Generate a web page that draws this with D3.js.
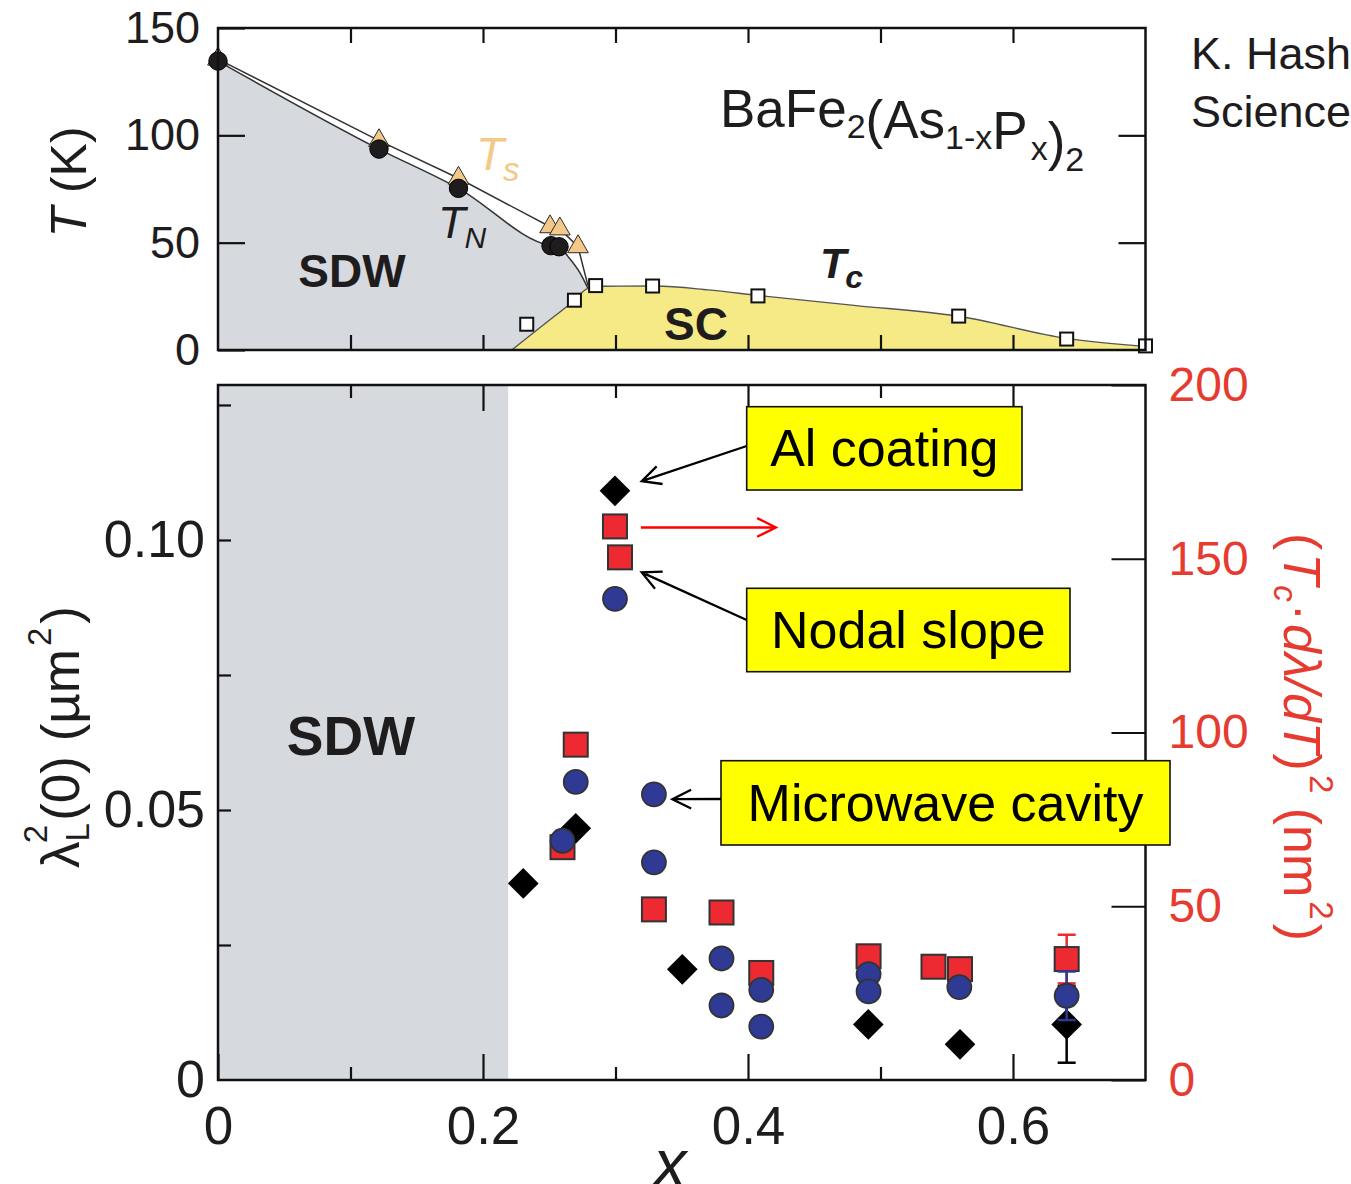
<!DOCTYPE html>
<html>
<head>
<meta charset="utf-8">
<script src="https://cdn.jsdelivr.net/npm/d3@7"></script>
<style>
  body { margin: 0; background: #fff; }
  svg { display: block; font-family: "Liberation Sans", Arial, Helvetica, sans-serif; }
</style>
</head>
<body>
<svg id="chart" width="1351" height="1184"></svg>
<script>
// ---------- Phase diagram: transition temperatures vs P content x ----------
const tnX = [0, 0.1215, 0.1815, 0.2513, 0.2574];          // T_N, black circles
const tnT = [134.6, 93.6, 75.3, 48.6, 48.1];
const tsX = [0, 0.1215, 0.1815, 0.2506, 0.258, 0.2717];   // T_s, orange triangles
const tsT = [135.5, 97.5, 80.0, 57.4, 56.4, 48.1];
const tcX = [0.233, 0.269, 0.285, 0.328, 0.4075, 0.559, 0.6405, 0.70]; // T_c, open squares
const tcT = [12.0, 23.2, 30.0, 29.8, 25.2, 15.8, 5.1, 1.9];

// phase boundaries
const tnLineX = [0, 0.1215, 0.1815, 0.2513, 0.2574, 0.2642, 0.2732, 0.2792];
const tnLineT = [134.6, 93.6, 75.3, 48.6, 48.1, 43.5, 35.9, 28.7];
const tsLineX = [0, 0.1215, 0.1815, 0.2506, 0.258, 0.2717, 0.2792];
const tsLineT = [135.5, 97.5, 80.0, 57.4, 56.4, 48.1, 30.0];
const domeX = [0.2217, 0.245, 0.269, 0.2792, 0.292, 0.33, 0.37, 0.4075, 0.48, 0.559, 0.6405, 0.70];
const domeT = [0, 11.4, 23.2, 28.7, 29.7, 29.8, 28.0, 25.4, 20.8, 15.7, 5.4, 1.6];

// ---------- Penetration depth vs x ----------
const sdwEdgeX = 0.219;
// lambda_L^2(0) (um^2), Al coating (diamonds)
const alX = [0.2304, 0.270, 0.2996, 0.3504, 0.4908, 0.560, 0.6405];
const alVal = [0.0364, 0.0466, 0.1091, 0.0205, 0.0103, 0.0066, 0.0103];
const alErr = [0, 0, 0, 0, 0, 0, 0.0071];
// lambda_L^2(0) (um^2), microwave cavity (circles)
const mwX = [0.2996, 0.270, 0.260, 0.329, 0.329, 0.380, 0.380, 0.410, 0.410, 0.491, 0.491, 0.5595, 0.6405];
const mwVal = [0.0891, 0.0552, 0.0443, 0.0529, 0.0403, 0.0225, 0.0138, 0.0167, 0.0099, 0.0196, 0.0164, 0.0172, 0.0156];
const mwErr = [0, 0, 0, 0, 0, 0, 0, 0, 0, 0, 0, 0, 0.0045];
// (Tc * dlambda/dT)^2 (nm^2), nodal slope (squares, right axis)
const slX = [0.2996, 0.3034, 0.270, 0.260, 0.329, 0.380, 0.410, 0.491, 0.540, 0.560, 0.6405];
const slVal = [159.3, 150.4, 96.5, 67.0, 49.1, 48.2, 30.8, 35.6, 32.6, 31.9, 34.8];
const slErr = [0, 0, 0, 0, 0, 0, 0, 0, 0, 0, 7.0];

// tick values
const xTicksMajor = [0, 0.2, 0.4, 0.6];
const xTicksMinor = [0.1, 0.3, 0.5];
const tTicks = [0, 50, 100, 150];
const lTicks = [0.025, 0.05, 0.075, 0.1, 0.125];
const lLabels = [0, 0.05, 0.10];
const rTicks = [0, 50, 100, 150, 200];

// ---------- colours ----------
const C = {
  ink: "#1e1c1d", sdw: "#d6d9de", sc: "#f5ea86", ts: "#f4c888",
  red: "#ed2a32", blue: "#2e3a94", axisRed: "#e63b30", edge: "#333"
};

const svg = d3.select("#chart");
const x = d3.scaleLinear().domain([0, 0.7]).range([218, 1145.5]);
const yT = d3.scaleLinear().domain([0, 150]).range([350, 28]);
const yL = d3.scaleLinear().domain([0, 0.1287]).range([1080, 385]);
const yR = d3.scaleLinear().domain([0, 200]).range([1080, 385]);

const zip = (a, b) => a.map((v, i) => [v, b[i]]);

// ================= PHASE DIAGRAM PANEL =================
const phase = svg.append("g");
const tnPts = zip(tnLineX, tnLineT);
const domePts = zip(domeX, domeT);
const smooth = d3.line().curve(d3.curveMonotoneX).x(d => x(d[0])).y(d => yT(d[1]));

// SDW region (below T_N), then SC dome painted over it
const edgeX = tnLineX[tnLineX.length - 1];
phase.append("path")
  .attr("d", smooth(tnPts) + `L${x(edgeX)},${yT(0)}L${x(0)},${yT(0)}Z`)
  .attr("fill", C.sdw);
phase.append("path")
  .attr("d", d3.area().curve(d3.curveMonotoneX)
    .x(d => x(d[0])).y0(yT(0)).y1(d => yT(d[1]))(domePts))
  .attr("fill", C.sc);

// boundary lines
phase.append("path").attr("d", smooth(tnPts))
  .attr("fill", "none").attr("stroke", "#333").attr("stroke-width", 1.5);
phase.append("path").attr("d", d3.line().x(d => x(d[0])).y(d => yT(d[1]))(zip(tsLineX, tsLineT)))
  .attr("fill", "none").attr("stroke", "#333").attr("stroke-width", 1.5);
phase.append("path").attr("d", smooth(domePts))
  .attr("fill", "none").attr("stroke", "#555").attr("stroke-width", 1.4);

// markers
const tri = d3.symbol().type(d3.symbolTriangle).size(185);
phase.selectAll(".ts").data(zip(tsX, tsT)).join("path")
  .attr("transform", d => `translate(${x(d[0])},${yT(d[1])})`)
  .attr("d", tri).attr("fill", C.ts).attr("stroke", "#2a2a2a").attr("stroke-width", 1);
phase.selectAll(".tn").data(zip(tnX, tnT)).join("circle")
  .attr("cx", d => x(d[0])).attr("cy", d => yT(d[1])).attr("r", 9.2)
  .attr("fill", C.ink).attr("stroke", "#000").attr("stroke-width", 1);
phase.selectAll(".tc").data(zip(tcX, tcT)).join("rect")
  .attr("x", d => x(d[0]) - 6.5).attr("y", d => yT(d[1]) - 6.5)
  .attr("width", 13).attr("height", 13)
  .attr("fill", "#fff").attr("stroke", "#111").attr("stroke-width", 2);

// frame and ticks
phase.append("rect").attr("x", x(0)).attr("y", yT(150))
  .attr("width", x(0.7) - x(0)).attr("height", yT(0) - yT(150))
  .attr("fill", "none").attr("stroke", "#111").attr("stroke-width", 2.5);

function styleAxis(g) {
  g.select(".domain").remove();
  g.selectAll(".tick line").attr("stroke", "#111").attr("stroke-width", 2.2);
}
const phaseXT = xTicksMajor.concat(xTicksMinor).filter(v => v > 0);
phase.append("g").attr("transform", `translate(0,${yT(0)})`)
  .call(d3.axisBottom(x).tickValues(phaseXT).tickSize(-15).tickFormat(""))
  .call(styleAxis);
phase.append("g").attr("transform", `translate(0,${yT(150)})`)
  .call(d3.axisTop(x).tickValues(phaseXT).tickSize(-15).tickFormat(""))
  .call(styleAxis);
phase.append("g").attr("transform", `translate(${x(0)},0)`)
  .call(d3.axisLeft(yT).tickValues(tTicks).tickSizeInner(-27).tickSizeOuter(0).tickPadding(18).tickFormat(d3.format("d")))
  .call(styleAxis)
  .call(g => g.selectAll("text").attr("font-size", 45).attr("fill", C.ink)
    .attr("font-family", "'Liberation Sans', Arial, sans-serif"));
phase.append("g").attr("transform", `translate(${x(0.7)},0)`)
  .call(d3.axisRight(yT).tickValues([50, 100]).tickSizeInner(-27).tickSizeOuter(0).tickFormat(""))
  .call(styleAxis);

// labels
phase.append("text").attr("transform", "translate(86,182) rotate(-90)")
  .attr("text-anchor", "middle").attr("font-size", 50).attr("fill", C.ink)
  .call(t => { t.append("tspan").attr("font-style", "italic").text("T"); t.append("tspan").text(" (K)"); });

phase.append("text").attr("x", 352).attr("y", 287).attr("text-anchor", "middle")
  .attr("font-size", 46).attr("font-weight", "bold").attr("fill", C.ink).text("SDW");
phase.append("text").attr("x", 696).attr("y", 340).attr("text-anchor", "middle")
  .attr("font-size", 46).attr("font-weight", "bold").attr("fill", C.ink).text("SC");

phase.append("text").attr("x", 438).attr("y", 238).attr("fill", C.ink).attr("font-style", "italic")
  .call(t => {
    t.append("tspan").attr("font-size", 45).text("T");
    t.append("tspan").attr("font-size", 30).attr("dx", -1).attr("dy", 10).text("N");
  });
phase.append("text").attr("x", 476).attr("y", 170).attr("fill", C.ts).attr("font-style", "italic")
  .call(t => {
    t.append("tspan").attr("font-size", 46).text("T");
    t.append("tspan").attr("font-size", 33).attr("dx", -1).attr("dy", 11).text("s");
  });
phase.append("text").attr("x", 820).attr("y", 278).attr("fill", C.ink).attr("font-style", "italic")
  .attr("font-weight", "bold")
  .call(t => {
    t.append("tspan").attr("font-size", 43).text("T");
    t.append("tspan").attr("font-size", 32).attr("dx", -1).attr("dy", 10).text("c");
  });

// compound formula
phase.append("text").attr("x", 720).attr("y", 127).attr("font-size", 53).attr("fill", C.ink)
  .call(t => {
    const sub = (s, gap) => {
      t.append("tspan").attr("font-size", 34).attr("dy", 11).attr("dx", gap || 0).text(s);
      t.append("tspan").attr("dy", -11).text("");
    };
    t.append("tspan").text("BaFe");
    sub("2");
    t.append("tspan").text("(As");
    sub("1-x");
    t.append("tspan").text("P");
    sub("x", 3);
    t.append("tspan").text(")");
    t.append("tspan").attr("font-size", 34).attr("dy", 11).text("2");
  });

// reference
svg.append("text").attr("x", 1191).attr("y", 69).attr("font-size", 45).attr("fill", C.ink).text("K. Hashimoto et al.");
svg.append("text").attr("x", 1191).attr("y", 127).attr("font-size", 45).attr("fill", C.ink).text("Science 336, 1554 (2012)");

// ================= PENETRATION DEPTH PANEL =================
const bot = svg.append("g");
bot.append("rect").attr("x", x(0)).attr("y", yL.range()[1])
  .attr("width", x(sdwEdgeX) - x(0)).attr("height", yL(0) - yL.range()[1])
  .attr("fill", C.sdw);
bot.append("text").attr("x", 351).attr("y", 755).attr("text-anchor", "middle")
  .attr("font-size", 55).attr("font-weight", "bold").attr("fill", C.ink).text("SDW");

// error bars helper
function errBars(g, xs, vs, es, yScale, color) {
  const d = xs.map((v, i) => ({ x: v, y: vs[i], e: es[i] })).filter(o => o.e > 0);
  const eg = g.append("g").attr("stroke", color).attr("stroke-width", 2.5);
  d.forEach(o => {
    const cx = x(o.x), y0 = yScale(o.y - o.e), y1 = yScale(o.y + o.e);
    eg.append("line").attr("x1", cx).attr("x2", cx).attr("y1", y0).attr("y2", y1);
    eg.append("line").attr("x1", cx - 9).attr("x2", cx + 9).attr("y1", y0).attr("y2", y0);
    eg.append("line").attr("x1", cx - 9).attr("x2", cx + 9).attr("y1", y1).attr("y2", y1);
  });
}

// nodal slope squares (right axis)
errBars(bot, slX, slVal, slErr, yR, C.red);
bot.selectAll(".sl").data(zip(slX, slVal)).join("rect")
  .attr("x", d => x(d[0]) - 12).attr("y", d => yR(d[1]) - 12)
  .attr("width", 24).attr("height", 24)
  .attr("fill", C.red).attr("stroke", C.edge).attr("stroke-width", 2);

// Al coating diamonds
errBars(bot, alX, alVal, alErr, yL, "#000");
const dia = d3.symbol().type(d3.symbolDiamond2).size(600);
bot.selectAll(".al").data(zip(alX, alVal)).join("path")
  .attr("transform", d => `translate(${x(d[0])},${yL(d[1])})`)
  .attr("d", dia).attr("fill", "#000");

// microwave cavity circles
errBars(bot, mwX, mwVal, mwErr, yL, C.blue);
bot.selectAll(".mw").data(zip(mwX, mwVal)).join("circle")
  .attr("cx", d => x(d[0])).attr("cy", d => yL(d[1])).attr("r", 12)
  .attr("fill", C.blue).attr("stroke", C.edge).attr("stroke-width", 1.8);

// frame
bot.append("rect").attr("x", x(0)).attr("y", yL.range()[1])
  .attr("width", x(0.7) - x(0)).attr("height", yL(0) - yL.range()[1])
  .attr("fill", "none").attr("stroke", "#111").attr("stroke-width", 2.5);

// x axes (bottom + top, inward ticks)
bot.append("g").attr("transform", `translate(0,${yL(0)})`)
  .call(d3.axisBottom(x).tickValues(xTicksMinor).tickSize(-13).tickFormat(""))
  .call(styleAxis);
bot.append("g").attr("transform", `translate(0,${yL(0)})`)
  .call(d3.axisBottom(x).tickValues(xTicksMajor).tickSizeInner(-26).tickSizeOuter(0).tickPadding(26)
    .tickFormat(d => d === 0 ? "0" : d3.format(".1f")(d)))
  .call(styleAxis)
  .call(g => g.selectAll("text").attr("font-size", 53).attr("fill", C.ink)
    .attr("font-family", "'Liberation Sans', Arial, sans-serif"));
bot.append("g").attr("transform", `translate(0,${yL.range()[1]})`)
  .call(d3.axisTop(x).tickValues(xTicksMinor).tickSize(-13).tickFormat(""))
  .call(styleAxis);
bot.append("g").attr("transform", `translate(0,${yL.range()[1]})`)
  .call(d3.axisTop(x).tickValues(xTicksMajor.filter(v => v > 0)).tickSize(-26).tickFormat(""))
  .call(styleAxis);

// left axis
bot.append("g").attr("transform", `translate(${x(0)},0)`)
  .call(d3.axisLeft(yL).tickValues(lTicks).tickSize(-13).tickFormat(""))
  .call(styleAxis);
bot.append("g").attr("transform", `translate(${x(0)},0)`)
  .call(d3.axisLeft(yL).tickValues(lLabels).tickSize(0).tickPadding(13)
    .tickFormat(d => d === 0 ? "0" : d3.format(".2f")(d)))
  .call(styleAxis)
  .call(g => g.selectAll("text").attr("font-size", 52).attr("fill", C.ink)
    .attr("font-family", "'Liberation Sans', Arial, sans-serif"));

// right axis
bot.append("g").attr("transform", `translate(${x(0.7)},0)`)
  .call(d3.axisRight(yR).tickValues(rTicks).tickSizeInner(-34).tickSizeOuter(0).tickPadding(23).tickFormat(d3.format("d")))
  .call(styleAxis)
  .call(g => g.selectAll("text").attr("font-size", 48).attr("fill", C.axisRed)
    .attr("font-family", "'Liberation Sans', Arial, sans-serif"));

// axis titles
bot.append("text").attr("x", 670).attr("y", 1186).attr("text-anchor", "middle")
  .attr("font-size", 66).attr("font-style", "italic").attr("fill", C.ink).text("x");

bot.append("text").attr("transform", "translate(79,737) rotate(-90)")
  .attr("text-anchor", "middle").attr("font-size", 53).attr("fill", C.ink)
  .call(t => {
    t.append("tspan").text("\u03bb");
    t.append("tspan").attr("font-size", 33).attr("dy", 10).text("L");
    t.append("tspan").attr("font-size", 33).attr("dx", -20).attr("dy", -42).text("2");
    t.append("tspan").attr("dx", 4).attr("dy", 32).text("(0) (\u00b5m");
    t.append("tspan").attr("font-size", 33).attr("dx", 3).attr("dy", -28).text("2");
    t.append("tspan").attr("dx", 4).attr("dy", 28).text(")");
  });

bot.append("text").attr("transform", "translate(1284,737) rotate(90)")
  .attr("text-anchor", "middle").attr("font-size", 52).attr("fill", C.axisRed)
  .call(t => {
    t.append("tspan").text("(");
    t.append("tspan").attr("font-style", "italic").attr("dx", 3).text("T");
    t.append("tspan").attr("font-size", 33).attr("font-style", "italic").attr("dy", 10).text("c");
    t.append("tspan").attr("dy", -10).attr("dx", 2).text("\u00b7");
    t.append("tspan").attr("font-style", "italic").attr("dx", 3).text("d\u03bb/dT");
    t.append("tspan").text(")");
    t.append("tspan").attr("font-size", 33).attr("dx", 4).attr("dy", -26).text("2");
    t.append("tspan").attr("dy", 26).text(" (nm");
    t.append("tspan").attr("font-size", 33).attr("dx", 4).attr("dy", -26).text("2");
    t.append("tspan").attr("dx", 4).attr("dy", 26).text(")");
  });

// ---------- annotations ----------
function arrow(g, x1, y1, x2, y2, color) {
  const a = Math.atan2(y2 - y1, x2 - x1), L = 21, w = 0.46;
  const p = (ang) => [x2 - L * Math.cos(ang), y2 - L * Math.sin(ang)];
  const [ax, ay] = p(a - w), [bx, by] = p(a + w);
  g.append("path")
    .attr("d", `M${x1},${y1}L${x2},${y2}M${ax},${ay}L${x2},${y2}L${bx},${by}`)
    .attr("fill", "none").attr("stroke", color).attr("stroke-width", 2.3);
}
const notes = [
  { text: "Al coating",       box: [746.7, 406.7, 1022, 490],   from: [746.7, 446], tip: [0.3198, 0.1109] },
  { text: "Nodal slope",      box: [746.7, 588.3, 1070, 671.7], from: [746.7, 620], tip: [0.3198, 0.0940] },
  { text: "Microwave cavity", box: [721, 760.7, 1170, 845],     from: [721, 799],   tip: [0.3429, 0.0520] }
];
const ann = svg.append("g");
notes.forEach(n => {
  const [x0, y0, x1, y1] = n.box;
  ann.append("rect").attr("x", x0).attr("y", y0).attr("width", x1 - x0).attr("height", y1 - y0)
    .attr("fill", "#ffff00").attr("stroke", "#111").attr("stroke-width", 1.6);
  ann.append("text").attr("x", (x0 + x1) / 2).attr("y", (y0 + y1) / 2 + 18).attr("text-anchor", "middle")
    .attr("font-size", 52).attr("fill", "#000").text(n.text);
  arrow(ann, n.from[0], n.from[1], x(n.tip[0]), yL(n.tip[1]), "#000");
});
// points the squares to the right-hand axis
arrow(ann, x(0.3192), yR(159), x(0.4211), yR(159), "#ff0000");
</script>
</body>
</html>
